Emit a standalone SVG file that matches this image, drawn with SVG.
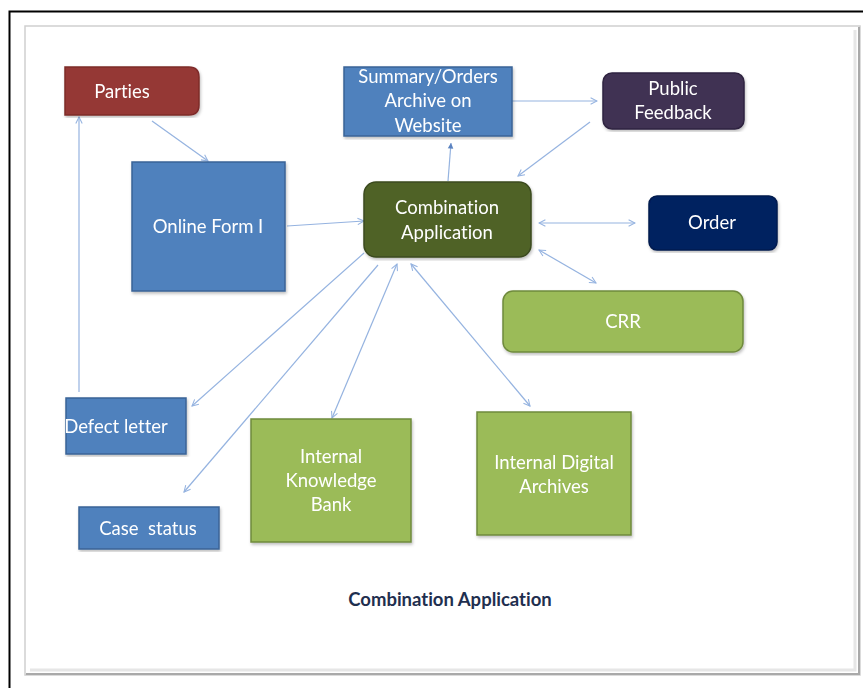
<svg xmlns="http://www.w3.org/2000/svg" width="863" height="688" viewBox="0 0 863 688">
  <style>
    .lbl { font-family: Lato, "Open Sans", "Liberation Sans", sans-serif; font-size: 18.5px; fill: #ffffff; text-anchor: middle; font-variant-ligatures: none; }
    .cap { font-family: Lato, "Open Sans", "Liberation Sans", sans-serif; font-size: 18.5px; font-weight: bold; fill: #1f2f4f; text-anchor: middle; font-variant-ligatures: none; }
    .blue { fill: #4f81bd; stroke: #3a6497; stroke-width: 1.5; }
    .green { fill: #9bbb59; stroke: #6f8a3c; stroke-width: 1.5; }
    .conn line, .conn path { stroke: #95b3e0; stroke-width: 1.2; fill: none; }
  </style>
  <defs>
    <marker id="arr" viewBox="0 0 10 10" refX="9" refY="5" markerWidth="8" markerHeight="8" markerUnits="userSpaceOnUse" orient="auto-start-reverse">
      <path d="M1,1 L9,5 L1,9" fill="none" stroke="#95b3e0" stroke-width="1.3"/>
    </marker>
    <marker id="tri" viewBox="0 0 10 10" refX="9" refY="5" markerWidth="7" markerHeight="7" markerUnits="userSpaceOnUse" orient="auto">
      <path d="M1,1 L9,5 L1,9 Z" fill="#5b83c0"/>
    </marker>
    <filter id="sh" x="-5%" y="-5%" width="110%" height="110%">
      <feDropShadow dx="1" dy="2" stdDeviation="1.5" flood-color="#000" flood-opacity="0.25"/>
    </filter>
  </defs>

  <!-- page background and outer rule -->
  <rect width="863" height="688" fill="#ffffff"/>
  <path d="M9.5,688 L9.5,11.5 L863,11.5" fill="none" stroke="#000" stroke-width="2"/>

  <!-- picture frame -->
  <rect x="25" y="26" width="835" height="649" fill="#ffffff" stroke="#cfcfcf" stroke-width="1.5"/>
  <path d="M859,27 L859,674 L26,674" fill="none" stroke="#a9a9a9" stroke-width="2"/>
  <path d="M855,30 L855,670 L30,670" fill="none" stroke="#e6e6e6" stroke-width="3"/>

  <!-- connectors -->
  <g id="connectors" class="conn">
    <line x1="152" y1="121" x2="208" y2="161" marker-end="url(#arr)"/>
    <line x1="79" y1="392" x2="79" y2="117" marker-end="url(#arr)"/>
    <line x1="287" y1="226" x2="364" y2="221" marker-end="url(#arr)"/>
    <line x1="448" y1="181" x2="451" y2="143" marker-end="url(#tri)"/>
    <line x1="512" y1="101" x2="597" y2="101" marker-end="url(#arr)"/>
    <line x1="590" y1="122" x2="518" y2="176" marker-end="url(#arr)"/>
    <line x1="539" y1="223" x2="635" y2="223" marker-start="url(#arr)" marker-end="url(#arr)"/>
    <line x1="539" y1="250" x2="596" y2="283" marker-start="url(#arr)" marker-end="url(#arr)"/>
    <line x1="364" y1="253" x2="192" y2="406" marker-end="url(#arr)"/>
    <line x1="378" y1="265" x2="184" y2="492" marker-end="url(#arr)"/>
    <line x1="397" y1="264" x2="332" y2="418" marker-start="url(#arr)" marker-end="url(#arr)"/>
    <line x1="411" y1="264" x2="530" y2="406" marker-start="url(#arr)" marker-end="url(#arr)"/>
  </g>

  <!-- nodes -->
  <g id="parties" filter="url(#sh)">
    <path d="M65,67 L189,67 Q199,67 199,77 L199,105 Q199,115 189,115 L65,115 Z" fill="#953735" stroke="#7e2c2a" stroke-width="1.5"/>
    <text class="lbl" x="122" y="98">Parties</text>
  </g>

  <g id="summary" filter="url(#sh)">
    <rect class="blue" x="344" y="67" width="168" height="69"/>
    <text class="lbl" x="428" y="83">Summary/Orders</text>
    <text class="lbl" x="428" y="107">Archive on</text>
    <text class="lbl" x="428" y="132">Website</text>
  </g>

  <g id="public-feedback" filter="url(#sh)">
    <rect x="603" y="73" width="141" height="56" rx="9" fill="#403152" stroke="#2f2440" stroke-width="1.5"/>
    <text class="lbl" x="673" y="95">Public</text>
    <text class="lbl" x="673" y="119">Feedback</text>
  </g>

  <g id="online-form" filter="url(#sh)">
    <rect class="blue" x="132" y="162" width="153" height="129"/>
    <text class="lbl" x="208" y="233">Online Form I</text>
  </g>

  <g id="combination" filter="url(#sh)">
    <rect x="364" y="182" width="167" height="75" rx="12" fill="#4f6228" stroke="#3b4a1e" stroke-width="1.5"/>
    <text class="lbl" x="447" y="214">Combination</text>
    <text class="lbl" x="447" y="239">Application</text>
  </g>

  <g id="order" filter="url(#sh)">
    <rect x="649" y="196" width="128" height="54" rx="8" fill="#002060" stroke="#001a4d" stroke-width="1.5"/>
    <text class="lbl" x="712" y="229">Order</text>
  </g>

  <g id="crr" filter="url(#sh)">
    <rect class="green" x="503" y="291" width="240" height="61" rx="10"/>
    <text class="lbl" x="623" y="328">CRR</text>
  </g>

  <g id="defect-letter" filter="url(#sh)">
    <rect class="blue" x="66" y="398" width="120" height="56"/>
    <text class="lbl" x="116" y="433">Defect letter</text>
  </g>

  <g id="case-status" filter="url(#sh)">
    <rect class="blue" x="79" y="507" width="140" height="42"/>
    <text class="lbl" x="148" y="535" xml:space="preserve">Case  status</text>
  </g>

  <g id="knowledge-bank" filter="url(#sh)">
    <rect class="green" x="251" y="419" width="160" height="123"/>
    <text class="lbl" x="331" y="463">Internal</text>
    <text class="lbl" x="331" y="487">Knowledge</text>
    <text class="lbl" x="331" y="511">Bank</text>
  </g>

  <g id="digital-archives" filter="url(#sh)">
    <rect class="green" x="477" y="412" width="154" height="123"/>
    <text class="lbl" x="554" y="469">Internal Digital</text>
    <text class="lbl" x="554" y="493">Archives</text>
  </g>

  <!-- caption -->
  <text class="cap" x="450" y="606">Combination Application</text>
</svg>
